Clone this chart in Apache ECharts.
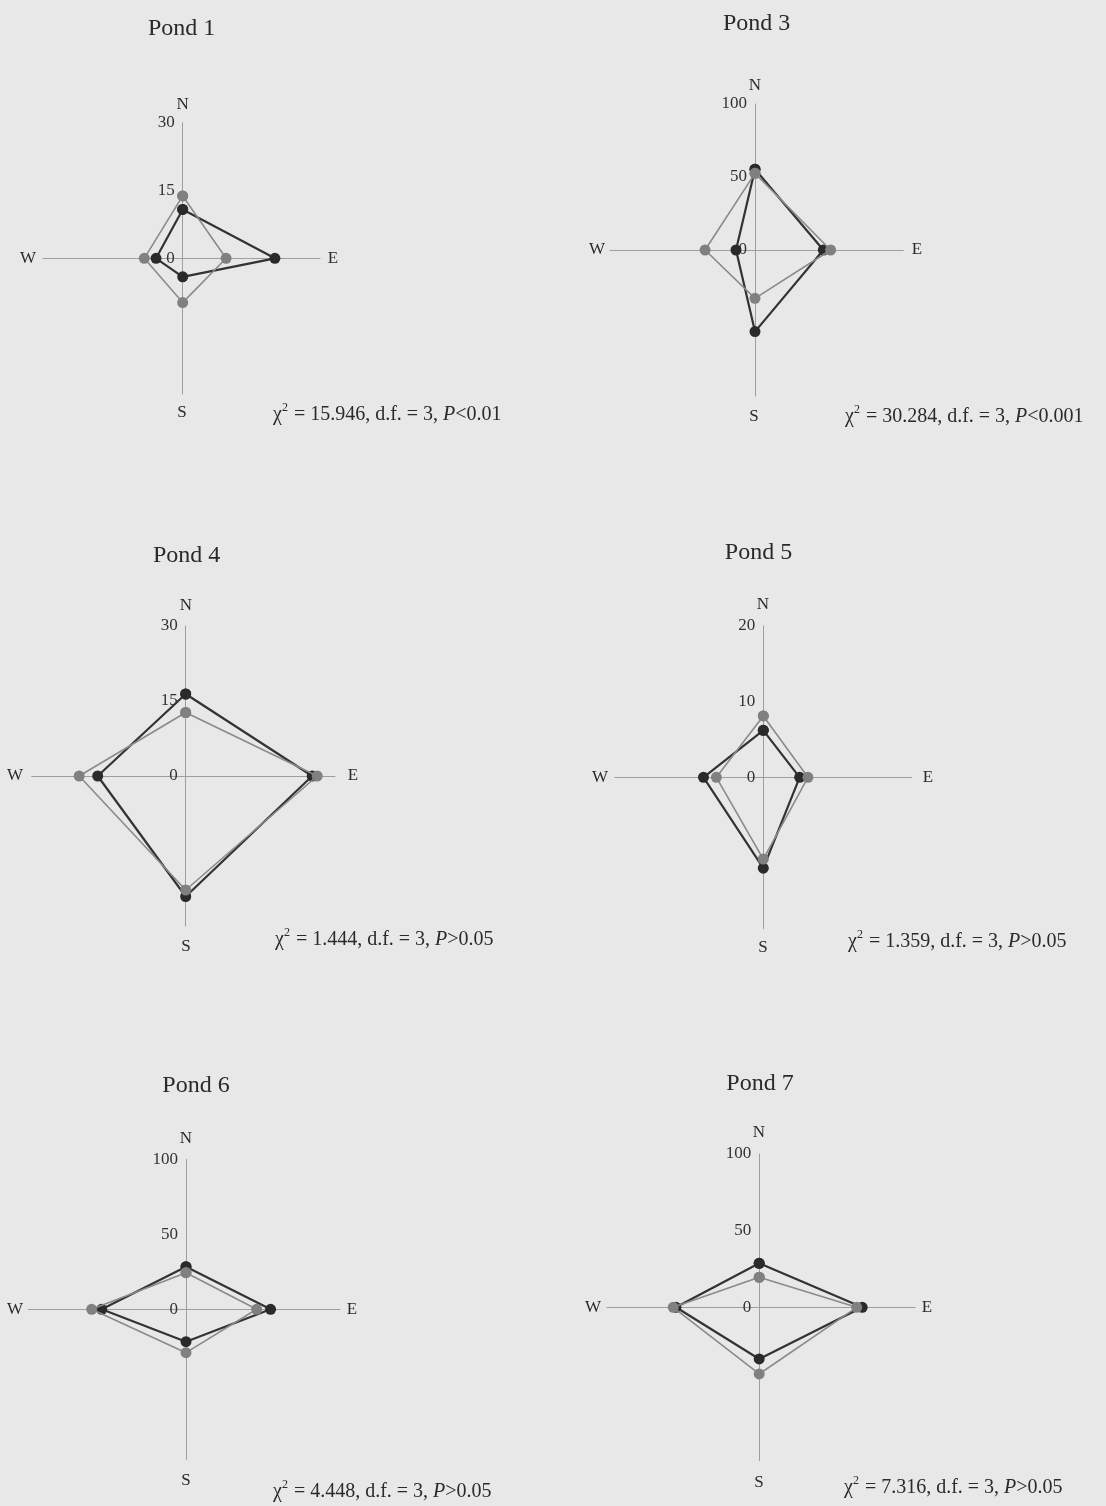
<!DOCTYPE html>
<html>
<head>
<meta charset="utf-8">
<script src="https://cdn.jsdelivr.net/npm/echarts@6/dist/echarts.min.js"></script>
<style>
html,body{margin:0;padding:0;background:#e8e8e8;}
#chart{width:1106px;height:1506px;}
</style>
</head>
<body>
<div id="chart"></div>
<script>
// ---- data ----
const directions = ['N', 'E', 'S', 'W'];
const pondNames = ['Pond 1', 'Pond 3', 'Pond 4', 'Pond 5', 'Pond 6', 'Pond 7'];
const axisMax = [30, 100, 30, 20, 100, 100];
const tickLabels = [[0, 15, 30], [0, 50, 100], [0, 15, 30], [0, 10, 20], [0, 50, 100], [0, 50, 100]];
// values along N, E, S, W
const darkPond1 = [10.8, 20.4, 4.1, 5.9];
const grayPond1 = [13.8, 9.6, 9.8, 8.5];
const darkPond3 = [55.3, 46.8, 55.9, 13.0];
const grayPond3 = [52.5, 51.8, 33.1, 34.2];
const darkPond4 = [16.4, 25.3, 24.1, 17.6];
const grayPond4 = [12.7, 26.3, 22.8, 21.3];
const darkPond5 = [6.2, 4.8, 12.0, 7.9];
const grayPond5 = [8.1, 5.9, 10.8, 6.2];
const darkPond6 = [28.4, 56.4, 21.6, 56.2];
const grayPond6 = [24.4, 47.1, 28.9, 62.9];
const darkPond7 = [28.7, 67.2, 33.7, 54.3];
const grayPond7 = [19.6, 63.6, 43.5, 56.1];
const chiValues = ['15.946', '30.284', '1.444', '1.359', '4.448', '7.316'];
const dfValues = [3, 3, 3, 3, 3, 3];
const pValues = ['<0.01', '<0.001', '>0.05', '>0.05', '>0.05', '>0.05'];

const darkSets = [darkPond1, darkPond3, darkPond4, darkPond5, darkPond6, darkPond7];
const graySets = [grayPond1, grayPond3, grayPond4, grayPond5, grayPond6, grayPond7];

// ---- layout (pixels) ----
const layout = [
  {cx: 182.7, cy: 258.3, k: 4.52, L: 139.7, R: 137.3,
   title: [181.7, 29], n: [182.7, 105], s: [182, 413], w: [28, 258.3], e: [333, 258.3], chi: [273, 413]},
  {cx: 755, cy: 250, k: 1.46, L: 145, R: 148.3,
   title: [756.7, 24], n: [755, 86], s: [754, 417], w: [597, 250], e: [917, 250], chi: [845, 415]},
  {cx: 185.7, cy: 776, k: 5.0, L: 154, R: 149.3,
   title: [186.7, 556], n: [186, 606], s: [186, 947], w: [15, 776], e: [353, 776], chi: [275, 938]},
  {cx: 763.3, cy: 777.3, k: 7.57, L: 148.3, R: 148.4,
   title: [758.5, 553], n: [763, 605], s: [763, 948], w: [600, 777.3], e: [928, 777.3], chi: [848, 940]},
  {cx: 186, cy: 1309.3, k: 1.5, L: 157.7, R: 154,
   title: [196, 1086], n: [186, 1139], s: [186, 1481], w: [15, 1309.3], e: [352, 1309.3], chi: [273, 1490]},
  {cx: 759.2, cy: 1307.3, k: 1.533, L: 152.2, R: 156,
   title: [760, 1084], n: [759, 1133], s: [759, 1483], w: [593, 1307.3], e: [927, 1307.3], chi: [844, 1486]}
];

const serif = "'Liberation Serif', 'DejaVu Serif', serif";
const axisColor = '#9e9e9e';
const darkColor = '#2a2a2a';
const grayColor = '#808080';

function toPoints(vals) {
  // N, E, S, W -> cartesian, closed polygon
  const pts = [[0, vals[0]], [vals[1], 0], [0, -vals[2]], [-vals[3], 0]];
  pts.push(pts[0]);
  return pts;
}

const grids = [], xAxes = [], yAxes = [], series = [], graphics = [];

layout.forEach((g, i) => {
  const M = axisMax[i];
  grids.push({
    left: g.cx - g.L, width: g.L + g.R,
    top: g.cy - M * g.k, height: 2 * M * g.k,
    containLabel: false
  });
  xAxes.push({
    gridIndex: i, type: 'value',
    min: -g.L / g.k, max: g.R / g.k,
    axisLine: {onZero: true, lineStyle: {color: axisColor, width: 1}},
    axisTick: {show: false}, axisLabel: {show: false}, splitLine: {show: false}
  });
  const labels = tickLabels[i];
  yAxes.push({
    gridIndex: i, type: 'value', position: 'left',
    offset: -g.L,
    min: -M, max: M, interval: M / 2,
    axisLine: {show: true, onZero: false, lineStyle: {color: axisColor, width: 1}},
    axisTick: {show: false}, splitLine: {show: false},
    axisLabel: {
      show: true, showMinLabel: true, showMaxLabel: true, margin: 8,
      fontFamily: serif, fontSize: 17, color: '#333',
      formatter: v => labels.indexOf(v) >= 0 ? String(v) : ''
    }
  });
  series.push({
    type: 'line', xAxisIndex: i, yAxisIndex: i,
    data: toPoints(darkSets[i]),
    symbol: 'circle', symbolSize: 11, showSymbol: true,
    lineStyle: {color: '#333333', width: 2.2},
    itemStyle: {color: darkColor}, z: 3, silent: true
  });
  series.push({
    type: 'line', xAxisIndex: i, yAxisIndex: i,
    data: toPoints(graySets[i]),
    symbol: 'circle', symbolSize: 11, showSymbol: true,
    lineStyle: {color: '#8a8a8a', width: 1.6},
    itemStyle: {color: grayColor}, z: 4, silent: true
  });

  const txt = (pos, text, size, align) => ({
    type: 'text', x: pos[0], y: pos[1], silent: true,
    style: {text: text, fontFamily: serif, fontSize: size, fill: '#2a2a2a',
            align: align || 'center', verticalAlign: 'middle'}
  });
  graphics.push(txt(g.title, pondNames[i], 24));
  graphics.push(txt(g.n, directions[0], 17));
  graphics.push(txt(g.e, directions[1], 17));
  graphics.push(txt(g.s, directions[2], 17));
  graphics.push(txt(g.w, directions[3], 17));
  graphics.push({
    type: 'text', x: g.chi[0], y: g.chi[1], silent: true,
    style: {
      text: '{r|χ}{sup|2}{r| = ' + chiValues[i] + ', d.f. = ' + dfValues[i] + ', }{it|P}{r|' + pValues[i] + '}',
      fontFamily: serif, fontSize: 20, fill: '#2a2a2a',
      align: 'left', verticalAlign: 'middle',
      rich: {
        r: {fontFamily: serif, fontSize: 20, fill: '#2a2a2a', lineHeight: 24, verticalAlign: 'bottom'},
        it: {fontFamily: serif, fontSize: 20, fontStyle: 'italic', fill: '#2a2a2a', lineHeight: 24, verticalAlign: 'bottom'},
        sup: {fontFamily: serif, fontSize: 12, fill: '#2a2a2a', lineHeight: 24, verticalAlign: 'top', padding: [1, 1, 0, 0]}
      }
    }
  });
});

const chart = echarts.init(document.getElementById('chart'), null, {renderer: 'canvas'});
chart.setOption({
  backgroundColor: '#e8e8e8',
  animation: false,
  grid: grids,
  xAxis: xAxes,
  yAxis: yAxes,
  series: series,
  graphic: graphics
});
</script>
</body>
</html>
